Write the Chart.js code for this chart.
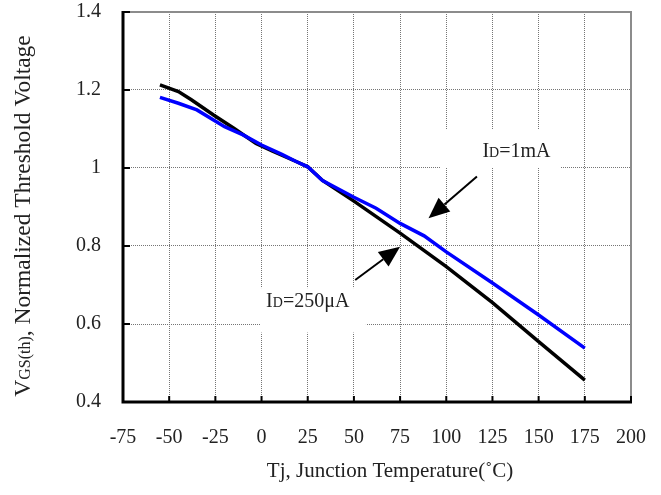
<!DOCTYPE html>
<html>
<head>
<meta charset="utf-8">
<script src="https://cdn.jsdelivr.net/npm/chart.js@4/dist/chart.umd.min.js"></script>
<style>
  html, body { margin: 0; padding: 0; background: #fff; }
  #wrap { width: 661px; height: 495px; }
</style>
</head>
<body>
<div id="wrap"><canvas id="vth-chart"></canvas></div>
<script>
// ID = 250uA curve (black)
const temp250 = [-55, -45, -38, -26, -15, -3, 6, 19, 25, 33, 50, 75, 100, 125, 150, 175];
const vth250 = [1.213, 1.196, 1.175, 1.136, 1.102, 1.063, 1.043, 1.016, 1.003, 0.968, 0.915, 0.833, 0.747, 0.655, 0.555, 0.456];

// ID = 1mA curve (blue)
const temp1m = [-55, -45, -35, -20, -10, 0, 11, 19, 25, 33, 50, 62, 75, 88, 100, 125, 150, 175];
const vth1m = [1.181, 1.166, 1.149, 1.106, 1.085, 1.059, 1.035, 1.016, 1.003, 0.968, 0.925, 0.897, 0.858, 0.826, 0.785, 0.705, 0.623, 0.538];

// axis ranges
const xMin = -75, xMax = 200, xStep = 25;
const yMin = 0.4, yMax = 1.4, yStep = 0.2;

const FONT = "'Liberation Serif', 'DejaVu Serif', serif";
const TEXT_COLOR = '#222';
const GRID_COLOR = '#757575';

// labels and arrows, in data units
const notes = [
  { parts: [['I', 20], ['D', 14], ['=1mA', 20]], x: 138, y: 1.046, box: [97, 162, 1.1, 1.0] },
  { parts: [['I', 20], ['D', 14], ['=250\u03bcA', 20]], x: 25, y: 0.662, box: [-0.5, 56.5, 0.692, 0.578] }
];
const arrows = [
  { from: [116.6, 0.978], to: [90.4, 0.871] },
  { from: [50.7, 0.713], to: [75, 0.798] }
];

function drawParts(ctx, parts, cx, baseY, align) {
  let total = 0;
  for (const [t, s] of parts) { ctx.font = `${s}px ${FONT}`; total += ctx.measureText(t).width; }
  let x = align === 'center' ? cx - total / 2 : cx;
  for (const [t, s] of parts) {
    ctx.font = `${s}px ${FONT}`;
    ctx.fillText(t, x, baseY);
    x += ctx.measureText(t).width;
  }
}

const decorPlugin = {
  id: 'decor',
  beforeDatasetsDraw(chart) {
    const { ctx, scales: { x, y } } = chart;
    ctx.save();
    // white boxes behind the labels
    for (const n of notes) {
      const [x0, x1, y0, y1] = n.box;
      ctx.fillStyle = '#fff';
      ctx.fillRect(x.getPixelForValue(x0), y.getPixelForValue(y0),
        x.getPixelForValue(x1) - x.getPixelForValue(x0), y.getPixelForValue(y1) - y.getPixelForValue(y0));
      ctx.fillStyle = TEXT_COLOR;
      ctx.textBaseline = 'alphabetic';
      ctx.textAlign = 'left';
      drawParts(ctx, n.parts, x.getPixelForValue(n.x), y.getPixelForValue(n.y) + 7, 'center');
    }
    ctx.restore();
  },
  afterDatasetsDraw(chart) {
    const { ctx, chartArea: a, scales: { x, y } } = chart;
    ctx.save();
    // top and right frame
    ctx.strokeStyle = '#8c8c8c';
    ctx.lineWidth = 2;
    ctx.beginPath();
    ctx.moveTo(a.left, a.top);
    ctx.lineTo(a.right, a.top);
    ctx.lineTo(a.right, a.bottom);
    ctx.stroke();
    // left and bottom axes with inner ticks
    ctx.strokeStyle = '#000';
    ctx.lineWidth = 3;
    ctx.beginPath();
    ctx.moveTo(a.left, a.top - 1);
    ctx.lineTo(a.left, a.bottom);
    ctx.lineTo(a.right + 1, a.bottom);
    ctx.stroke();
    ctx.lineWidth = 2;
    ctx.beginPath();
    for (const t of x.ticks) {
      const px = x.getPixelForValue(t.value);
      ctx.moveTo(px, a.bottom);
      ctx.lineTo(px, a.bottom - 6);
    }
    for (const t of y.ticks) {
      const py = y.getPixelForValue(t.value);
      ctx.moveTo(a.left, py);
      ctx.lineTo(a.left + 7, py);
    }
    ctx.stroke();
    // arrows
    ctx.fillStyle = '#000';
    ctx.lineWidth = 2;
    for (const ar of arrows) {
      const x0 = x.getPixelForValue(ar.from[0]), y0 = y.getPixelForValue(ar.from[1]);
      const x1 = x.getPixelForValue(ar.to[0]), y1 = y.getPixelForValue(ar.to[1]);
      const ang = Math.atan2(y1 - y0, x1 - x0);
      const len = 21, half = 9;
      const bx = x1 - len * Math.cos(ang), by = y1 - len * Math.sin(ang);
      ctx.beginPath();
      ctx.moveTo(x0, y0);
      ctx.lineTo(bx, by);
      ctx.stroke();
      ctx.beginPath();
      ctx.moveTo(x1, y1);
      ctx.lineTo(bx + half * Math.sin(ang), by - half * Math.cos(ang));
      ctx.lineTo(bx - half * Math.sin(ang), by + half * Math.cos(ang));
      ctx.closePath();
      ctx.fill();
    }
    ctx.restore();
  },
  afterDraw(chart) {
    const { ctx, chartArea: a } = chart;
    ctx.save();
    ctx.fillStyle = TEXT_COLOR;
    ctx.textBaseline = 'alphabetic';
    // x axis title
    drawParts(ctx, [['Tj, Junction Temperature(\u02daC)', 21]], a.left + (a.right - a.left) / 2 + 13, a.bottom + 75, 'center');
    // y axis title, with smaller GS(th)
    ctx.translate(22, (a.top + a.bottom) / 2 + 9);
    ctx.rotate(-Math.PI / 2);
    drawParts(ctx, [['V', 23.5], ['GS(th)', 16], [', Normalized Threshold Voltage', 23.5]], 0, 8, 'center');
    ctx.restore();
  }
};

const ctx = document.getElementById('vth-chart').getContext('2d');
new Chart(ctx, {
  type: 'line',
  data: {
    datasets: [
      {
        label: 'ID=1mA',
        data: temp1m.map((t, i) => ({ x: t, y: vth1m[i] })),
        borderColor: '#0000ff',
        borderWidth: 3.5,
        pointRadius: 0,
        tension: 0,
        fill: false
      },
      {
        label: 'ID=250uA',
        data: temp250.map((t, i) => ({ x: t, y: vth250[i] })),
        borderColor: '#000000',
        borderWidth: 3.5,
        pointRadius: 0,
        tension: 0,
        fill: false
      }
    ]
  },
  options: {
    responsive: true,
    maintainAspectRatio: false,
    animation: false,
    layout: { padding: { top: 12, right: 30, left: 0, bottom: 0 } },
    plugins: {
      legend: { display: false },
      tooltip: { enabled: false }
    },
    scales: {
      x: {
        type: 'linear',
        min: xMin,
        max: xMax,
        afterFit: (s) => { s.height = 93; s.paddingLeft = 0; s.paddingRight = 0; },
        ticks: {
          stepSize: xStep,
          padding: 24,
          color: TEXT_COLOR,
          font: { family: FONT, size: 20 },
          maxRotation: 0
        },
        grid: { color: GRID_COLOR, lineWidth: 1, drawTicks: false },
        border: { display: false, dash: [1, 1] }
      },
      y: {
        min: yMin,
        max: yMax,
        afterFit: (s) => { s.width = 123; s.paddingTop = 0; s.paddingBottom = 0; },
        ticks: {
          stepSize: yStep,
          padding: 22,
          color: TEXT_COLOR,
          font: { family: FONT, size: 20 },
          callback: (v) => String(Number(v.toFixed(1)))
        },
        grid: { color: GRID_COLOR, lineWidth: 1, drawTicks: false },
        border: { display: false, dash: [1, 1] }
      }
    }
  },
  plugins: [decorPlugin]
});
</script>
</body>
</html>
